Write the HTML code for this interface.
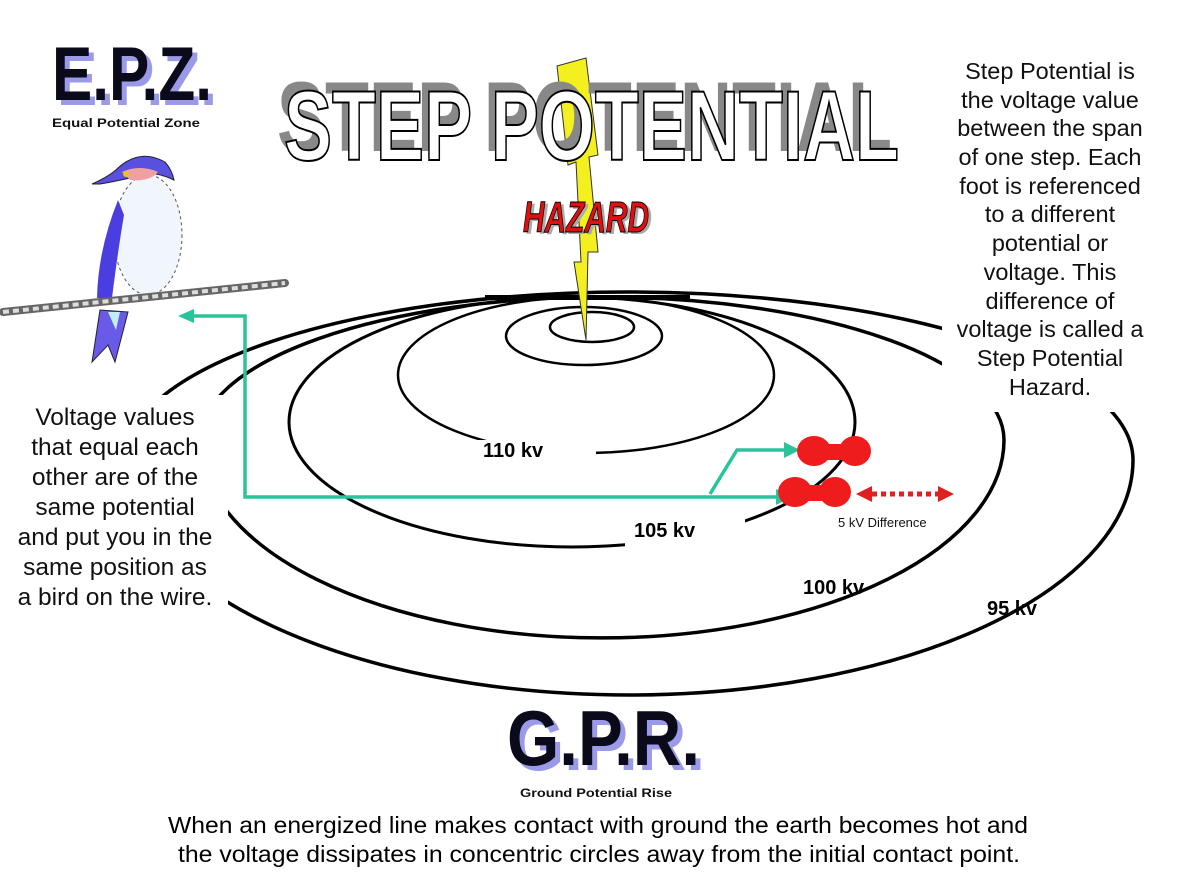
<!DOCTYPE html>
<html><head><meta charset="utf-8"><style>
html,body{margin:0;padding:0;background:#fff;}
svg{display:block;}
</style></head><body>
<svg width="1200" height="889" viewBox="0 0 1200 889" xmlns="http://www.w3.org/2000/svg" font-family="Liberation Sans, sans-serif">
<rect width="1200" height="889" fill="#fff"/>
<!-- rings -->
<g fill="none" stroke="#000" stroke-width="3.5">
  <path d="M125,460 A504,168 0 0 1 1133,460 A504,235 0 0 1 125,460"/>
  <path d="M200,440 A402,143 0 0 1 1004,440 A402,198 0 0 1 200,440"/>
  <path d="M289,422 A283,125 0 0 1 855,422 A283,125 0 0 1 289,422" stroke-width="3"/>
  <path d="M398,375 A188,78 0 0 1 774,375 A188,78 0 0 1 398,375" stroke-width="2.5"/>
  <path d="M506,336 A78,29 0 0 1 662,336 A78,29 0 0 1 506,336" stroke-width="2.5"/>
  <path d="M550,327 A42,15 0 0 1 634,327 A42,15 0 0 1 550,327" stroke-width="2.5"/>
</g>
<path d="M485,300 L690,300 L690,295 L485,295 Z" fill="#000"/>
<!-- white gaps -->
<rect x="942" y="322" width="210" height="90" fill="#fff"/>
<rect x="0" y="395" width="228" height="215" fill="#fff"/>
<rect x="472" y="440" width="124" height="22" fill="#fff"/>
<rect x="625" y="515" width="120" height="40" fill="#fff"/>
<rect x="855" y="440" width="20" height="60" fill="#fff"/>
<!-- kv labels -->
<g font-weight="bold" font-size="20" fill="#000">
<text x="483" y="457">110 kv</text>
<text x="634" y="537">105 kv</text>
<text x="803" y="594">100 kv</text>
<text x="987" y="615">95 kv</text>
</g>
<!-- lightning -->
<polygon points="557,66 586,58 598,155 589,157 598,252 588,252 586,340 574,262 581,262 576,162 568,165" fill="#f4f020" stroke="#333" stroke-width="1"/>
<!-- title -->
<text x="277" y="151" font-size="99" font-weight="bold" fill="#888" textLength="615" lengthAdjust="spacingAndGlyphs">STEP POTENTIAL</text>
<text x="284" y="160" font-size="99" font-weight="bold" fill="#fff" stroke="#000" stroke-width="2" textLength="615" lengthAdjust="spacingAndGlyphs">STEP POTENTIAL</text>
<text x="526" y="234" font-size="44" font-weight="bold" font-style="italic" fill="#aaa" textLength="126" lengthAdjust="spacingAndGlyphs">HAZARD</text>
<text x="523" y="232" font-size="44" font-weight="bold" font-style="italic" fill="#e01010" stroke="#000" stroke-width="1" textLength="126" lengthAdjust="spacingAndGlyphs">HAZARD</text>
<!-- EPZ -->
<text x="57" y="105" font-size="76" font-weight="bold" fill="#9a9ae8" textLength="160" lengthAdjust="spacingAndGlyphs">E.P.Z.</text>
<text x="52" y="100" font-size="76" font-weight="bold" fill="#0a0a1a" textLength="160" lengthAdjust="spacingAndGlyphs">E.P.Z.</text>
<text x="52" y="127" font-size="12" font-weight="bold" fill="#111" textLength="148" lengthAdjust="spacingAndGlyphs">Equal Potential Zone</text>
<!-- GPR -->
<text x="512" y="770" font-size="78" font-weight="bold" fill="#9a9ae8" textLength="193" lengthAdjust="spacingAndGlyphs">G.P.R.</text>
<text x="507" y="765" font-size="78" font-weight="bold" fill="#0a0a1a" textLength="193" lengthAdjust="spacingAndGlyphs">G.P.R.</text>
<text x="520" y="797" font-size="12" font-weight="bold" fill="#111" textLength="152" lengthAdjust="spacingAndGlyphs">Ground Potential Rise</text>
<!-- bottom text -->
<g font-size="23" fill="#000">
<text x="168" y="833" textLength="860" lengthAdjust="spacingAndGlyphs">When an energized line makes contact with ground the earth becomes hot and</text>
<text x="178" y="862" textLength="842" lengthAdjust="spacingAndGlyphs">the voltage dissipates in concentric circles away from the initial contact point.</text>
</g>
<!-- right text -->
<g font-size="23.5" fill="#111" text-anchor="middle">
<text x="1050" y="79">Step Potential is</text>
<text x="1050" y="108">the voltage value</text>
<text x="1050" y="136">between the span</text>
<text x="1050" y="165">of one step. Each</text>
<text x="1050" y="194">foot is referenced</text>
<text x="1050" y="222">to a different</text>
<text x="1050" y="251">potential or</text>
<text x="1050" y="280">voltage. This</text>
<text x="1050" y="309">difference of</text>
<text x="1050" y="337">voltage is called a</text>
<text x="1050" y="366">Step Potential</text>
<text x="1050" y="395">Hazard.</text>
</g>
<!-- left text -->
<g font-size="24.5" fill="#111" text-anchor="middle">
<text x="115" y="425">Voltage values</text>
<text x="115" y="455">that equal each</text>
<text x="115" y="485">other are of the</text>
<text x="115" y="515">same potential</text>
<text x="115" y="545">and put you in the</text>
<text x="115" y="575">same position as</text>
<text x="115" y="605">a bird on the wire.</text>
</g>
<!-- bird -->
<g>
  <path d="M100,310 L92,362 L108,345 L115,362 L128,312 Z" fill="#6a5ae8" stroke="#223" stroke-width="1"/>
  <path d="M108,312 L120,312 L116,330 Z" fill="#bfeff5"/>
  <ellipse cx="148" cy="235" rx="34" ry="60" fill="#f0f6fb" stroke="#555" stroke-width="1" stroke-dasharray="3,3"/>
  <path d="M118,200 Q98,250 97,298 L112,298 Q118,250 124,215 Z" fill="#4a3ee0"/>
  <path d="M92,184 Q110,176 118,168 Q140,148 165,162 Q172,170 174,180 Q150,168 130,178 Q112,182 100,184 Z" fill="#5a50e0" stroke="#223" stroke-width="1"/>
  <path d="M122,172 Q140,164 158,172 Q150,182 130,180 Z" fill="#f0a0a0"/>
  <circle cx="126" cy="174" r="3" fill="#f0c020"/>
</g>
<!-- wire -->
<path d="M3,312 L285,283" stroke="#666" stroke-width="8" stroke-linecap="round"/>
<path d="M3,312 L285,283" stroke="#ddd" stroke-width="4" stroke-dasharray="6,4"/>
<!-- green arrows -->
<g stroke="#2ac49a" stroke-width="3.5" fill="none">
  <path d="M776,497 L245,497 L245,316 L190,316"/>
  <path d="M710,494 L737,450 L786,450"/>
</g>
<g fill="#2ac49a">
  <polygon points="178,316 194,309 194,323"/>
  <polygon points="792,497 776,489 776,505"/>
  <polygon points="800,450 784,442 784,458"/>
</g>
<!-- feet -->
<g fill="#ee1c1c">
  <ellipse cx="814" cy="451" rx="17" ry="15"/>
  <ellipse cx="855" cy="451" rx="16" ry="15"/>
  <rect x="812" y="444" width="44" height="16"/>
  <ellipse cx="795" cy="492" rx="17" ry="15"/>
  <ellipse cx="835" cy="492" rx="16" ry="15"/>
  <rect x="793" y="485" width="44" height="16"/>
</g>
<!-- red dashed arrow -->
<path d="M872,494 L938,494" stroke="#e02020" stroke-width="5" stroke-dasharray="5,4"/>
<polygon points="856,494 872,486 872,502" fill="#e02020"/>
<polygon points="954,494 938,486 938,502" fill="#e02020"/>
<text x="838" y="527" font-size="13" fill="#111">5 kV Difference</text>
</svg>
</body></html>
